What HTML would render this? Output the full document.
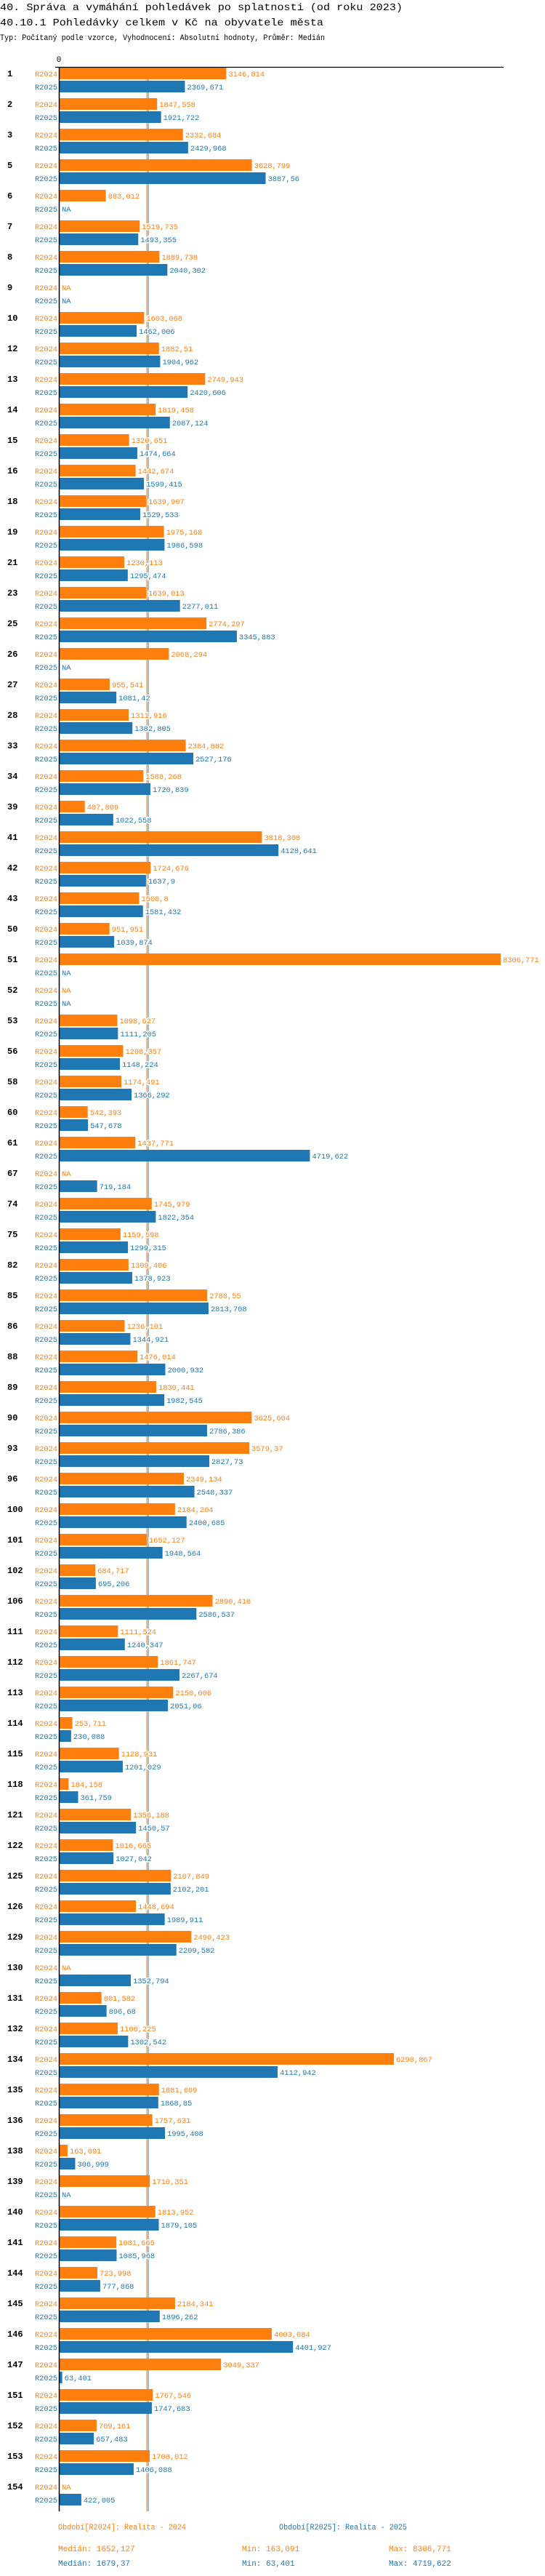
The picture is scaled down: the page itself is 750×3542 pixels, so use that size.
<!DOCTYPE html>
<html><head><meta charset="utf-8">
<style>
html,body{margin:0;padding:0;background:#fff;}
svg{display:block;}
text{font-family:"Liberation Mono","DejaVu Sans Mono",monospace;}
</style></head>
<body>
<svg id="chart" width="750" height="3542" viewBox="0 0 750 3542" xmlns="http://www.w3.org/2000/svg">
<text x="0" y="14" font-size="14" textLength="554" lengthAdjust="spacingAndGlyphs">40. Správa a vymáhání pohledávek po splatnosti (od roku 2023)</text>
<text x="0" y="35" font-size="14" textLength="445" lengthAdjust="spacingAndGlyphs">40.10.1 Pohledávky celkem v Kč na obyvatele města</text>
<text x="0" y="55" font-size="11" textLength="447" lengthAdjust="spacingAndGlyphs">Typ: Počítaný podle vzorce, Vyhodnocení: Absolutní hodnoty, Průměr: Medián</text>
<g id="lines"></g>
<g id="bars"></g>
<g id="labels"></g>
<text x="81" y="85" font-size="11" text-anchor="middle">0</text>
<line x1="76" y1="92.5" x2="693" y2="92.5" stroke="#000" stroke-width="1.3"/>
<line x1="81.5" y1="92" x2="81.5" y2="3453" stroke="#000" stroke-width="1.5"/>
<g font-size="11">
<text x="80" y="3478" fill="#ff7f0e" textLength="176" lengthAdjust="spacingAndGlyphs">Období[R2024]: Realita - 2024</text>
<text x="384" y="3478" fill="#1f77b4" textLength="176" lengthAdjust="spacingAndGlyphs">Období[R2025]: Realita - 2025</text>
<text x="80" y="3508" fill="#ff7f0e">Medián: 1652,127</text>
<text x="333" y="3508" fill="#ff7f0e">Min: 163,091</text>
<text x="535" y="3508" fill="#ff7f0e">Max: 8306,771</text>
<text x="80" y="3528" fill="#1f77b4">Medián: 1679,37</text>
<text x="333" y="3528" fill="#1f77b4">Min: 63,401</text>
<text x="535" y="3528" fill="#1f77b4">Max: 4719,622</text>
</g>
</svg>
<script>
const categories = ["1","2","3","5","6","7","8","9","10","12","13","14","15","16","18","19","21","23","25","26","27","28","33","34","39","41","42","43","50","51","52","53","56","58","60","61","67","74","75","82","85","86","88","89","90","93","96","100","101","102","106","111","112","113","114","115","118","121","122","125","126","129","130","131","132","134","135","136","138","139","140","141","144","145","146","147","151","152","153","154"];
const r2024 = [3146.814,1847.558,2332.684,3628.799,883.012,1519.735,1889.738,null,1603.068,1882.51,2749.943,1819.458,1320.651,1442.674,1639.907,1975.168,1230.113,1639.013,2774.297,2068.294,955.541,1311.916,2384.882,1588.268,487.809,3818.308,1724.676,1508.8,951.951,8306.771,null,1098.627,1208.357,1174.491,542.393,1437.771,null,1745.979,1159.598,1309.406,2788.55,1236.101,1476.014,1830.441,3625.604,3579.37,2349.134,2184.204,1652.127,684.717,2890.418,1111.524,1861.747,2150.006,253.711,1128.931,184.158,1356.188,1016.665,2107.849,1448.694,2490.423,null,801.582,1106.225,6298.867,1881.609,1757.631,163.091,1710.351,1813.952,1081.665,723.998,2184.341,4003.084,3049.337,1767.546,709.161,1708.012,null];
const r2025 = [2369.671,1921.722,2429.968,3887.56,null,1493.355,2040.302,null,1462.006,1904.962,2420.606,2087.124,1474.664,1599.415,1529.533,1986.598,1295.474,2277.011,3345.883,null,1081.42,1382.805,2527.176,1720.839,1022.558,4128.641,1637.9,1581.432,1039.874,null,null,1111.205,1148.224,1366.292,547.678,4719.622,719.184,1822.354,1299.315,1378.923,2813.708,1344.921,2000.932,1982.545,2786.386,2827.73,2548.337,2400.685,1948.564,695.206,2586.537,1240.347,2267.674,2051.06,230.088,1201.029,361.759,1450.57,1027.042,2102.201,1989.911,2209.582,1352.794,896.68,1302.542,4112.942,1868.85,1995.408,306.999,null,1879.105,1085.968,777.868,1896.262,4401.927,63.401,1747.683,657.483,1406.088,422.005];
const seriesNames = ["R2024","R2025"];
const medians = [1652.127,1679.37];

const NS = "http://www.w3.org/2000/svg";
const colors = ["#ff7f0e","#1f77b4"];
const X0 = 81, K = 0.0732;
function xScale(v){ return X0 + v*K; }
function groupTop(i){ return 93 + i*42; }
function fmt(v){ return String(v).replace('.',','); }
function mk(tag, attrs, parent){
  const e = document.createElementNS(NS, tag);
  for (const k in attrs) e.setAttribute(k, attrs[k]);
  parent.appendChild(e); return e;
}
const gl = document.getElementById('lines');
const gb = document.getElementById('bars');
const gt = document.getElementById('labels');
medians.forEach((m, s) => {
  const ln = mk('line', {x1: xScale(m), x2: xScale(m), y1: 92, y2: 3453, stroke: colors[s], 'stroke-width': 1}, gl);
  
  
});
categories.forEach((c, i) => {
  const top = groupTop(i);
  const gLab = mk('text', {x: 10, y: top + 12, 'font-size': 12, 'font-weight': 'bold', fill: '#000'}, gt);
  gLab.textContent = c;
  
  
  [r2024, r2025].forEach((arr, s) => {
    const v = arr[i];
    const y = top + s*18;
    const sl = mk('text', {x: 79, y: y + 12, 'font-size': 10.5, 'text-anchor': 'end', fill: colors[s], 'letter-spacing': '-0.1'}, gt);
    sl.textContent = seriesNames[s];
    
    
    let endX = X0 + 1;
    if (v !== null) {
      const w = xScale(v) - X0;
      const r = mk('rect', {x: X0 + 1, y: y, width: Math.max(w - 1, 1), height: 16, fill: colors[s]}, gb);
      
      
      endX = xScale(v);
    }
    const vl = mk('text', {x: endX + 3, y: y + 12, 'font-size': 10.5, fill: colors[s], 'letter-spacing': '-0.1', stroke: '#fff', 'stroke-width': 3, 'paint-order': 'stroke'}, gt);
    vl.textContent = v === null ? 'NA' : fmt(v);
    
    
  });
});
</script>
</body></html>
